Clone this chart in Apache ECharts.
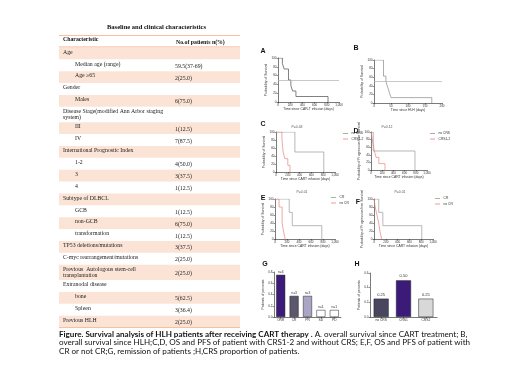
<!DOCTYPE html>
<html><head><meta charset="utf-8">
<script src="https://cdn.jsdelivr.net/npm/echarts@6/dist/echarts.min.js"></script>
<style>html,body{margin:0;padding:0;background:#fff}#c{width:520px;height:390px}</style>
</head><body><div id="c"></div>
<script>
// ---------- Table data ----------
const tableTitle = 'Baseline and clinical characteristics';
const tableHeader = ['Characteristic', 'No.of patients n(%)'];
const charLabels = ['Age','Median age (range)','Age \u226565','Gender','Males',
  'Disease Stage(modified Ann Arbor staging\nsystem)','III','IV','International Prognostic Index',
  '1-2','3','4','Subtype of DLBCL','GCB','non-GCB','transformation','TP53 deletions/mutations',
  'C-myc rearrangement/mutations','Previous  Autologous stem-cell\ntransplantation','Extranodal disease',
  'bone','Spleen','Previous HLH'];
const charValues = ['','59.5(37-69)','2(25.0)','','6(75.0)','','1(12.5)','7(87.5)','',
  '4(50.0)','3(37.5)','1(12.5)','','1(12.5)','6(75.0)','1(12.5)','3(37.5)','2(25.0)','2(25.0)','',
  '5(62.5)','3(36.4)','2(25.0)'];
const charIndent = [0,1,1,0,1,0,1,1,0,1,1,1,0,1,1,1,0,0,0,0,1,1,0];

// ---------- KM data ----------
const aDays = [0, 72, 100, 172, 211, 239, 294, 820];
const aSurv = [100, 87.5, 75, 50, 37.5, 25, 12.5, 0];
const bDays = [0, 28, 35, 40, 45, 50, 170];
const bSurv = [100, 62.5, 50, 37.5, 25, 12.5, 0];
const cNoCrsDays = [0, 320, 810];
const cNoCrsSurv = [100, 50, 0];
const cCrsDays = [0, 100, 110, 120, 150, 200, 237];
const cCrsSurv = [100, 83.3, 66.7, 50, 33.3, 16.7, 0];
const dNoCrsDays = [0, 40, 785];
const dNoCrsSurv = [100, 50, 0];
const dCrsDays = [0, 20, 40, 60, 90, 140, 250];
const dCrsSurv = [100, 83.3, 66.7, 50, 33.3, 16.7, 0];
const eCrDays = [0, 237, 288, 780];
const eCrSurv = [100, 66.7, 33.3, 0];
const eNoCrDays = [0, 68, 119, 140, 170];
const eNoCrSurv = [100, 80, 40, 20, 0];
const fCrDays = [0, 80, 150, 810];
const fCrSurv = [100, 66.7, 33.3, 0];
const fNoCrDays = [0, 20, 50, 80, 100, 130];
const fNoCrSurv = [100, 80, 60, 40, 20, 0];
const pValues = {C:'P=0.03', D:'P=0.12', E:'P=0.01', F:'P=0.01'};

// ---------- Bar data ----------
const gCats = ['ORR','CR','PR','SD','PD'];
const gVals = [0.75, 0.375, 0.375, 0.125, 0.125];
const gCounts = [6, 3, 3, 1, 1];
const hCats = ['no CRS','CRS1','CRS2'];
const hVals = [0.25, 0.50, 0.25];

// ---------- Caption ----------
const capBold = 'Figure. Survival analysis of HLH patients after receiving CART therapy .';
const capLine1 = ' A. overall survival since CART treatment; B,';
const capLine2 = 'overall survival since HLH;C,D, OS and PFS of patient with CRS1-2 and without CRS; E,F, OS and PFS of patient with';
const capLine3 = 'CR or not CR;G, remission of patients ;H,CRS proportion of patients.';

// ---------- styles ----------
const SERIF = '"Liberation Serif","Times New Roman",serif';
const SANS = '"Liberation Sans",Arial,sans-serif';
const CAPF = 'Lato,"Liberation Sans",sans-serif';
const GRAY = '#9a9a9a', RED = '#e8837c', DARK = '#4a4a4a';
const gColors = ['#3c1a7a','#5c566f','#aaa5c5','#ffffff','#ffffff'];
const hColors = ['#4a4660','#3c1a7a','#d8d8d8'];

function fitSize(parts, family, target) {
  const ctx = document.createElement('canvas').getContext('2d');
  let w = 0;
  parts.forEach(p => { ctx.font = p[0] + ' 20px ' + family; w += ctx.measureText(p[1]).width; });
  return 20 * target / w;
}
const capSize = fitSize([['bold', capBold], ['normal', capLine1]], CAPF, 409);
const titleSize = fitSize([['bold', tableTitle]], SERIF, 99);

const chart = echarts.init(document.getElementById('c'), null, {renderer:'canvas'});

const graphic = [];
graphic.push({type:'text', style:{text:tableTitle, x:156.5, y:27, align:'center', verticalAlign:'middle', font:'bold '+titleSize.toFixed(2)+'px '+SERIF, fill:'#111'}});
graphic.push({type:'line', shape:{x1:59,y1:35.5,x2:240,y2:35.5}, style:{stroke:'#f4b183', lineWidth:0.8}});
graphic.push({type:'line', shape:{x1:59,y1:47,x2:240,y2:47}, style:{stroke:'#f4b183', lineWidth:1}});
graphic.push({type:'text', style:{text:tableHeader[0], x:63, y:40, verticalAlign:'middle', font:'bold 5.8px '+SERIF, fill:'#111'}});
graphic.push({type:'text', style:{text:tableHeader[1], x:176, y:43, verticalAlign:'middle', font:'bold 5.8px '+SERIF, fill:'#111'}});
let ry = 47.5;
charLabels.forEach((lab, i) => {
  const two = lab.indexOf('\n') >= 0;
  const h = two ? 15.4 : 11.87;
  if (i % 2 === 0) graphic.push({type:'rect', shape:{x:59, y:ry, width:181, height:h}, style:{fill:'#fbe4d5'}});
  graphic.push({type:'text', style:{text:lab, x: charIndent[i] ? 75 : 63, y: ry + (two ? 2.2 : 1.8), verticalAlign:'top', lineHeight:5.8, font:'5.8px '+SERIF, fill:'#222'}});
  if (charValues[i]) graphic.push({type:'text', style:{text:charValues[i], x:175, y: ry + h/2 + 1, verticalAlign:'middle', font:'5.8px '+SERIF, fill:'#222'}});
  ry += h;
});
graphic.push({type:'line', shape:{x1:59,y1:ry,x2:240,y2:ry}, style:{stroke:'#f4b183', lineWidth:0.8}});

const cs = capSize.toFixed(2);
graphic.push({type:'text', style:{x:59, y:334, verticalAlign:'middle', rich:{b:{font:'bold '+cs+'px '+CAPF, fill:'#111'}, n:{font:cs+'px '+CAPF, fill:'#111'}}, text:'{b|'+capBold+'}{n|'+capLine1+'}'}});
graphic.push({type:'text', style:{x:59, y:342.5, verticalAlign:'middle', text:capLine2, font:cs+'px '+CAPF, fill:'#111'}});
graphic.push({type:'text', style:{x:59, y:351, verticalAlign:'middle', text:capLine3, font:cs+'px '+CAPF, fill:'#111'}});

const letters = [['A',263,51],['B',356,48],['C',263,124],['D',356,131],['E',263,198],['F',358,202],['G',265,264],['H',357,264]];
letters.forEach(l => graphic.push({type:'text', style:{text:l[0], x:l[1], y:l[2], align:'center', verticalAlign:'middle', font:'bold 7px '+SANS, fill:'#111'}}));
const pPos = {C:[297,127], D:[387,127], E:[302,192], F:[400,192]};
Object.keys(pValues).forEach(k => graphic.push({type:'text', style:{text:pValues[k], x:pPos[k][0], y:pPos[k][1], align:'center', verticalAlign:'middle', font:'3.4px '+SANS, fill:'#555'}}));

const grids = [
  {left:278, top:58, width:61, height:44},
  {left:374, top:60, width:68, height:43},
  {left:276, top:132, width:59, height:40},
  {left:371, top:132, width:56, height:38},
  {left:275, top:199, width:60, height:40},
  {left:374, top:199, width:59, height:40},
  {left:274, top:272, width:67, height:45},
  {left:370, top:273, width:67, height:44}
];
const axLine = {lineStyle:{color:'#222', width:0.6}};
const axTick = {show:true, length:1.5, lineStyle:{color:'#222', width:0.5}};
const lblStyle = {fontSize:3, color:'#333', margin:1.5, fontFamily:SANS};
const nameStyle = {fontSize:3.4, color:'#333', fontFamily:SANS};

const xAxes = [], yAxes = [];
const kmX = [
  [1000,200,'Time since CAR-T infusion (days)'],
  [200,50,'Time since HLH (days)'],
  [1000,200,'Time since CART infusion (days)'],
  [1000,200,'Time since CART infusion (days)'],
  [1000,200,'Time since CART infusion (days)'],
  [1000,200,'Time since CART infusion (days)']
];
const kmY = ['Probability of Survival','Probability of Survival','Probability of Survival','Probability of Progression free Survival','Probability of Survival','Probability of Progression free Survival'];
kmX.forEach((k,i) => {
  xAxes.push({type:'value', gridIndex:i, min:0, max:k[0], interval:k[1], axisLine:axLine, axisTick:axTick, axisLabel:lblStyle, splitLine:{show:false},
    name:k[2], nameLocation:'middle', nameGap:6, nameTextStyle:nameStyle});
  yAxes.push({type:'value', gridIndex:i, min:0, max:100, interval:20, axisLine:{show:true, ...axLine}, axisTick:axTick, axisLabel:lblStyle, splitLine:{show:false},
    name:kmY[i], nameLocation:'middle', nameGap:9, nameTextStyle:nameStyle});
});
xAxes.push({type:'category', gridIndex:6, data:gCats, axisLine:axLine, axisTick:{...axTick, alignWithLabel:true}, axisLabel:{...lblStyle, fontSize:3.3}});
yAxes.push({type:'value', gridIndex:6, min:0, max:0.8, interval:0.2, axisLine:{show:true, ...axLine}, axisTick:axTick, splitLine:{show:false},
  axisLabel:{...lblStyle, formatter:v=>v.toFixed(1)}, name:'Patients of percents', nameLocation:'middle', nameGap:9, nameTextStyle:nameStyle});
xAxes.push({type:'category', gridIndex:7, data:hCats, axisLine:axLine, axisTick:{...axTick, alignWithLabel:true}, axisLabel:{...lblStyle, fontSize:3.3}});
yAxes.push({type:'value', gridIndex:7, min:0, max:0.6, interval:0.2, axisLine:{show:true, ...axLine}, axisTick:axTick, splitLine:{show:false},
  axisLabel:{...lblStyle, formatter:v=>v.toFixed(1)}, name:'Patients of percents', nameLocation:'middle', nameGap:9, nameTextStyle:nameStyle});

const pair = (d, s) => d.map((v,i) => [v, s[i]]);
const km = (name, idx, d, s, color, extra) => Object.assign({type:'line', name, xAxisIndex:idx, yAxisIndex:idx, step:'end', symbol:'none',
  data:pair(d,s), lineStyle:{color, width:0.7}, itemStyle:{color}, silent:true}, extra||{});
const medianLine = {markLine:{silent:true, symbol:'none', label:{show:false}, lineStyle:{color:'#b0b0b0', width:0.7, type:'solid'}, data:[{yAxis:50}]}};

const series = [
  km('OS', 0, aDays, aSurv, DARK, medianLine),
  km('OS-HLH', 1, bDays, bSurv, '#888', medianLine),
  km('no CRS', 2, cNoCrsDays, cNoCrsSurv, GRAY),
  km('CRS1-2', 2, cCrsDays, cCrsSurv, RED),
  km('no CRS', 3, dNoCrsDays, dNoCrsSurv, GRAY),
  km('CRS1-2', 3, dCrsDays, dCrsSurv, RED),
  km('CR', 4, eCrDays, eCrSurv, GRAY),
  km('no CR', 4, eNoCrDays, eNoCrSurv, RED),
  km('CR', 5, fCrDays, fCrSurv, GRAY),
  km('no CR', 5, fNoCrDays, fNoCrSurv, RED),
  {type:'bar', xAxisIndex:6, yAxisIndex:6, barWidth:9, silent:true,
    data:gVals.map((v,i)=>({value:v, itemStyle:{color:gColors[i], borderColor:'#222', borderWidth:0.5}})),
    label:{show:true, position:'top', distance:1.5, fontSize:3.3, color:'#333', fontFamily:SANS, formatter:p=>'n='+gCounts[p.dataIndex]}},
  {type:'bar', xAxisIndex:7, yAxisIndex:7, barWidth:15, silent:true,
    data:hVals.map((v,i)=>({value:v, itemStyle:{color:hColors[i], borderColor:'#222', borderWidth:0.5}})),
    label:{show:true, position:'top', distance:2, fontSize:4, color:'#333', fontFamily:SANS, formatter:p=>p.value.toFixed(2)}}
];

const legendBase = {orient:'vertical', icon:'rect', itemWidth:5, itemHeight:0.8, itemGap:2.5, padding:0, selectedMode:false,
  textStyle:{fontSize:3.3, color:'#333', fontFamily:SANS, padding:[0,0,0,-1.5]}};
const legends = [
  {...legendBase, data:['no CRS','CRS1-2'], left:343, top:132},
  {...legendBase, data:['no CRS','CRS1-2'], left:430, top:132},
  {...legendBase, data:['CR','no CR'], left:331, top:196},
  {...legendBase, data:['CR','no CR'], left:435, top:197}
];

chart.setOption({
  animation:false,
  backgroundColor:'#fff',
  grid:grids,
  xAxis:xAxes, yAxis:yAxes,
  legend:legends,
  series,
  graphic
});
</script></body></html>
